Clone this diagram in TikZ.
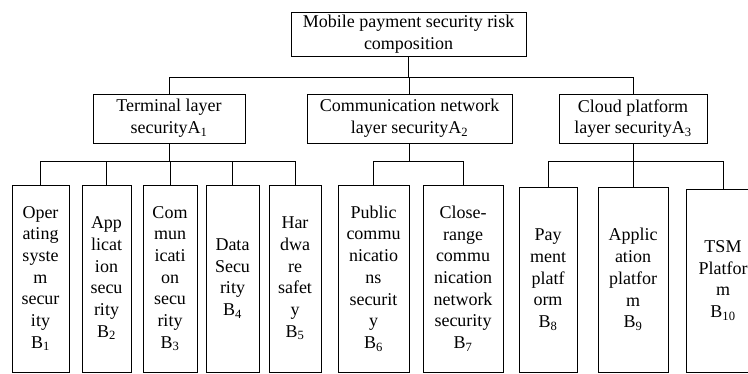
\documentclass[tikz,border=0pt]{standalone}
\usepackage{fontspec}
\setmainfont{Liberation Serif}
\begin{document}
\begin{tikzpicture}[x=1pt,y=-1pt, line width=0.8pt,
  box/.style={draw, align=center, inner sep=0pt, font=\fontsize{18}{21.7}\selectfont},
  leaf/.style={box, minimum height=187pt}]
\useasboundingbox (0,0) rectangle (748,374);
\clip (0,0) rectangle (748,374);
% root
\node[box, minimum width=235pt, minimum height=44pt] (top) at (408.5,34) {Mobile payment security risk\\composition};
% level 1
\node[box, minimum width=152pt, minimum height=49pt] (a1) at (169,118.5) {Terminal layer\\securityA\textsubscript{1}};
\node[box, minimum width=205pt, minimum height=49pt] (a2) at (409.5,118.5) {Communication network\\layer securityA\textsubscript{2}};
\node[box, minimum width=148pt, minimum height=49pt] (a3) at (633,118.5) {Cloud platform\\layer securityA\textsubscript{3}};
% leaves
\node[leaf, minimum width=57pt] (b1) at (40.5,278.5) {Oper\\ating\\syste\\m\\secur\\ity\\B\textsubscript{1}};
\node[leaf, minimum width=49pt] (b2) at (106.5,278.5) {App\\licat\\ion\\secu\\rity\\B\textsubscript{2}};
\node[leaf, minimum width=54pt] (b3) at (170,278.5) {Com\\mun\\icati\\on\\secu\\rity\\B\textsubscript{3}};
\node[leaf, minimum width=53pt] (b4) at (232.5,278.5) {Data\\Secu\\rity\\B\textsubscript{4}};
\node[leaf, minimum width=52pt] (b5) at (295,278.5) {Har\\dwa\\re\\safet\\y\\B\textsubscript{5}};
\node[leaf, minimum width=71pt] (b6) at (373.5,278.5) {Public\\commu\\nicatio\\ns\\securit\\y\\B\textsubscript{6}};
\node[leaf, minimum width=80pt] (b7) at (463,278.5) {Close-\\range\\commu\\nication\\network\\security\\B\textsubscript{7}};
\node[leaf, minimum width=58pt, minimum height=185pt] (b8) at (548,279.5) {Pay\\ment\\platf\\orm\\B\textsubscript{8}};
\node[leaf, minimum width=70pt, minimum height=185pt] (b9) at (633,279.5) {Applic\\ation\\platfor\\m\\B\textsubscript{9}};
\node[leaf, minimum width=74pt, minimum height=183pt] (b10) at (723,280.5) {TSM\\Platfor\\m\\B\textsubscript{10}};
% buses
\coordinate (bus0) at (0,77);
\coordinate (busA) at (0,161);
\draw (top.south) -- (top.south |- bus0);
\draw (a1.north) |- (a3.north |- bus0) -- (a3.north);
\draw (a2.north) -- (a2.north |- bus0);
% terminal layer
\draw (a1.south) -- (a1.south |- busA);
\draw (b1.north) |- (b5.north |- busA) -- (b5.north);
\foreach \n in {b2,b3,b4} \draw (\n.north) -- (\n.north |- busA);
% communication layer
\draw (a2.south) -- (a2.south |- busA);
\draw (b6.north) |- (b7.north |- busA) -- (b7.north);
% cloud layer
\draw (a3.south) -- (a3.south |- busA);
\draw (b8.north) |- (b10.north |- busA) -- (b10.north);
\draw (b9.north) -- (b9.north |- busA);
\end{tikzpicture}
\end{document}
